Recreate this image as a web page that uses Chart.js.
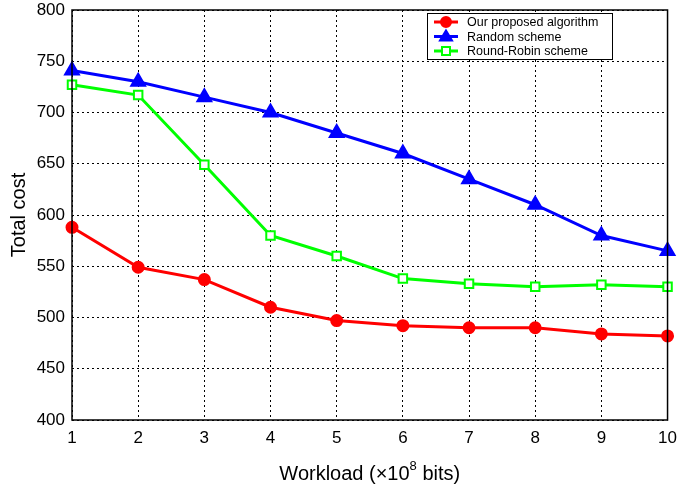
<!DOCTYPE html>
<html>
<head>
<meta charset="utf-8">
<script src="https://cdn.jsdelivr.net/npm/chart.js@4/dist/chart.umd.min.js"></script>
<style>
  html, body { margin: 0; padding: 0; background: #fff; }
  #wrap { width: 685px; height: 485px; }
</style>
</head>
<body>
<div id="wrap"><canvas id="costChart" width="685" height="485"></canvas></div>
<script>
// Data
const workloads = ['1', '2', '3', '4', '5', '6', '7', '8', '9', '10'];
const proposedCost = [588, 549, 537, 510, 497, 492, 490, 490, 484, 482];
const randomCost = [741, 730, 715, 700, 680, 660, 635, 610, 580, 565];
const roundRobinCost = [727, 717, 649, 580, 560, 538, 533, 530, 532, 530];

const seriesNames = ['Our proposed algorithm', 'Random scheme', 'Round-Robin scheme'];
const FONT = 'Arial, "Liberation Sans", Helvetica, sans-serif';

// Box around the plot, MATLAB style legend and axis titles
const decorations = {
    id: 'decorations',
    afterDatasetsDraw(chart) {
        const { ctx, chartArea: a } = chart;
        ctx.save();
        ctx.strokeStyle = '#000';
        ctx.lineWidth = 1.5;
        ctx.setLineDash([]);
        ctx.strokeRect(a.left, a.top, a.right - a.left, a.bottom - a.top);

        // legend
        const lx = 427, ly = 13, lw = 185, lh = 46;
        ctx.fillStyle = '#fff';
        ctx.fillRect(lx, ly, lw, lh);
        ctx.lineWidth = 1;
        ctx.strokeRect(lx + 0.5, ly + 0.5, lw, lh);
        ctx.font = '12.5px ' + FONT;
        ctx.textBaseline = 'middle';
        chart.data.datasets.forEach((ds, i) => {
            const y = ly + 9 + i * 14.5;
            ctx.strokeStyle = ds.borderColor;
            ctx.lineWidth = 3;
            ctx.beginPath();
            ctx.moveTo(lx + 7, y);
            ctx.lineTo(lx + 31, y);
            ctx.stroke();
            ctx.fillStyle = ds.pointBackgroundColor;
            ctx.lineWidth = 2;
            ctx.beginPath();
            if (ds.pointStyle === 'circle') ctx.arc(lx + 19, y, 5, 0, Math.PI * 2);
            else if (ds.pointStyle === 'triangle') { ctx.moveTo(lx + 19, y - 6); ctx.lineTo(lx + 25, y + 4); ctx.lineTo(lx + 13, y + 4); ctx.closePath(); }
            else ctx.rect(lx + 15, y - 4, 8, 8);
            ctx.fill();
            ctx.stroke();
            ctx.fillStyle = '#000';
            ctx.textAlign = 'left';
            ctx.fillText(ds.label, lx + 40, y + 1);
        });

        // x axis title with superscript
        ctx.fillStyle = '#000';
        ctx.textBaseline = 'alphabetic';
        ctx.textAlign = 'left';
        const big = '20px ' + FONT, small = '13px ' + FONT;
        const p1 = 'Workload (\u00d710', p2 = '8', p3 = ' bits)';
        ctx.font = big; const w1 = ctx.measureText(p1).width, w3 = ctx.measureText(p3).width;
        ctx.font = small; const w2 = ctx.measureText(p2).width;
        let x = (a.left + a.right) / 2 - (w1 + w2 + w3) / 2;
        const by = 480;
        ctx.font = big; ctx.fillText(p1, x, by); x += w1;
        ctx.font = small; ctx.fillText(p2, x, by - 10); x += w2;
        ctx.font = big; ctx.fillText(p3, x, by);

        // y axis title
        ctx.translate(19, (a.top + a.bottom) / 2);
        ctx.rotate(-Math.PI / 2);
        ctx.textAlign = 'center';
        ctx.textBaseline = 'middle';
        ctx.font = '20px ' + FONT;
        ctx.fillText('Total cost', 0, 0);
        ctx.restore();
    }
};

const ctx = document.getElementById('costChart').getContext('2d');
const costChart = new Chart(ctx, {
    type: 'line',
    data: {
        labels: workloads,
        datasets: [{
            label: seriesNames[0],
            data: proposedCost,
            borderColor: '#ff0000',
            backgroundColor: '#ff0000',
            pointBackgroundColor: '#ff0000',
            pointStyle: 'circle',
            pointRadius: 5,
            borderWidth: 3
        }, {
            label: seriesNames[1],
            data: randomCost,
            borderColor: '#0000ff',
            backgroundColor: '#0000ff',
            pointBackgroundColor: '#0000ff',
            pointStyle: 'triangle',
            pointRadius: 7,
            borderWidth: 3
        }, {
            label: seriesNames[2],
            data: roundRobinCost,
            borderColor: '#00ff00',
            backgroundColor: '#00ff00',
            pointBackgroundColor: '#ffffff',
            pointBorderColor: '#00ff00',
            pointBorderWidth: 2,
            pointStyle: 'rect',
            pointRadius: 6,
            borderWidth: 3
        }]
    },
    options: {
        responsive: false,
        animation: false,
        clip: false,
        layout: { padding: { top: 8, right: 15, bottom: 0, left: 0 } },
        plugins: { legend: { display: false }, tooltip: { enabled: false } },
        elements: { line: { tension: 0 } },
        scales: {
            x: {
                offset: false,
                afterFit(scale) { scale.height = 65; },
                grid: { color: '#000', lineWidth: 1, drawTicks: false },
                border: { display: false, dash: [2, 3] },
                ticks: { color: '#000', padding: 8, font: { family: FONT, size: 17 }, maxRotation: 0 }
            },
            y: {
                min: 400,
                max: 800,
                afterFit(scale) {
                    scale.width = 72;
                    scale.paddingTop = 0;
                    scale.paddingBottom = 0;
                },
                grid: { color: '#000', lineWidth: 1, drawTicks: false },
                border: { display: false, dash: [2, 3] },
                ticks: { color: '#000', stepSize: 50, padding: 7, font: { family: FONT, size: 17 } }
            }
        }
    },
    plugins: [decorations]
});
</script>
</body>
</html>
